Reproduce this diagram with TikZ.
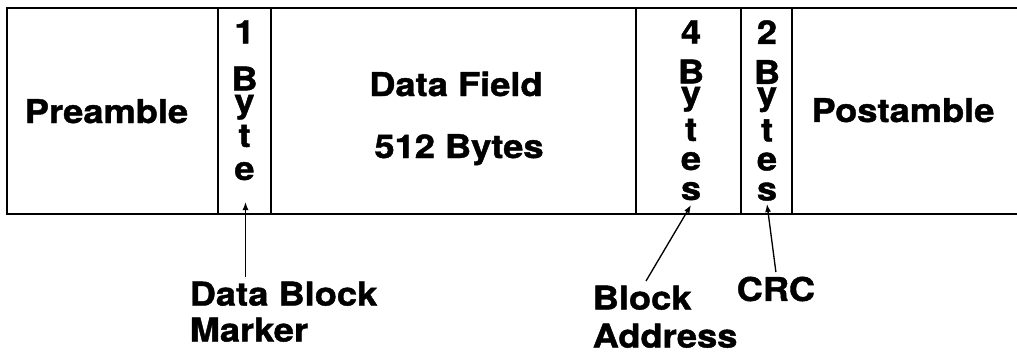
\documentclass[tikz,border=0pt]{standalone}
\usepackage{fontspec}
\setmainfont{TeX Gyre Heros}[FakeStretch=1.11, BoldFeatures={FakeBold=1.3}]
\usepackage{tikz}
\usetikzlibrary{arrows.meta,calc}

\tikzset{
    frame/.style={line width=1.3pt},
    ptr/.style={line width=1pt, -{Latex[length=6pt,width=4.5pt]}},
    lbl/.style={font=\bfseries\fontsize{24.5pt}{27pt}\selectfont},
    stack/.style={font=\bfseries\fontsize{24.5pt}{21.75pt}\selectfont, align=center, inner sep=0pt, anchor=north},
}

\begin{document}
\begin{tikzpicture}[x=0.75pt,y=0.75pt,yscale=-1,xscale=1]
    \useasboundingbox (0,0) rectangle (1017,360);

    %Frame
    \draw[frame] (1017,8) -- (7,8) -- (7,214) -- (1017,214);
    \draw[frame] (218,8) -- (218,214) (271,8) -- (271,214) (636,8) -- (636,214) (741,8) -- (741,214) (792,8) -- (792,214);

    %Fields
    \node[lbl, anchor=base] (pre) at (106.5,123) {Preamble};
    \node[lbl, anchor=base] (data) at (456,96) {Data Field};
    \node[lbl, anchor=base] (size) at (459,158) {512 Bytes};
    \node[lbl, anchor=base] (post) at (903,122) {Postamble};

    %Byte counts
    \node[stack] (mark) at (244.5,20) {1\\[13.5pt]B\\[-5.25pt]y\\[3pt]t\\[3pt]e};
    \node[stack] (addr) at (691,20) {4\\[8.25pt]B\\[-6pt]y\\[4.5pt]t\\e\\[0.75pt]s};
    \node[stack] (check) at (767,20) {2\\[8.25pt]B\\[-6pt]y\\[4.5pt]t\\e\\[0.75pt]s};

    %Labels
    \node[lbl, align=left, anchor=north west] (dbm) at (185,277) {Data Block\\Marker};
    \node[lbl, align=left, anchor=north west] (blk) at (588,281) {Block\\[1.5pt]Address};
    \node[lbl, anchor=north west] (crc) at (732,272) {CRC};

    %Pointers
    \coordinate (mark tip) at (245.5,202);
    \coordinate (addr tip) at (691,205);
    \coordinate (check tip) at (767,204);
    \draw[ptr] (dbm.north -| mark tip) -- (mark tip);
    \draw[ptr] ($(blk.north west)+(58,0)$) -- (addr tip);
    \draw[ptr] (crc.north) -- (check tip);
\end{tikzpicture}
\end{document}
